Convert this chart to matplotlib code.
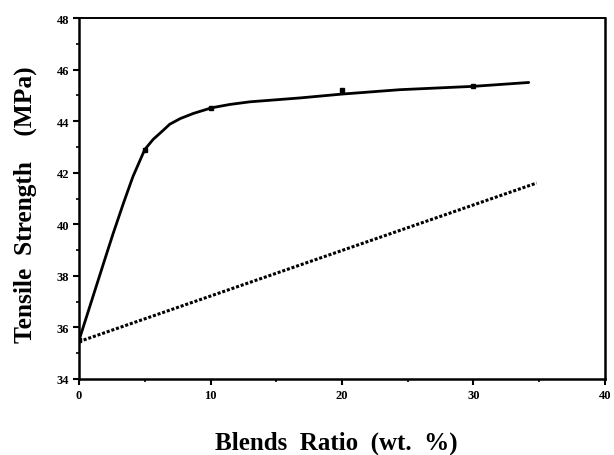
import numpy as np
import matplotlib
matplotlib.use('Agg')
import matplotlib.pyplot as plt
from matplotlib.ticker import MultipleLocator

# Measured tensile strength of the blends
blend_ratio = [0, 5, 10, 20, 30]
tensile = [35.5, 42.9, 44.5, 45.2, 45.35]

# Hand-drawn trend curve through the measurements
curve_x = [0, 1.0, 2.0, 2.6, 3.4, 4.1, 5.0, 5.65, 6.2, 6.9, 7.7, 8.7,
           10.1, 11.5, 13.0, 16.8, 20.0, 24.4, 30.0, 34.2]
curve_y = [35.5, 37.1, 38.7, 39.65, 40.85, 41.85, 42.9, 43.3, 43.55, 43.88, 44.1, 44.3,
           44.52, 44.65, 44.75, 44.9, 45.05, 45.22, 45.35, 45.5]

# Additivity (rule of mixtures) line
additive_x = [0, 34.8]
additive_y = [35.45, 41.6]

plt.rcParams['font.family'] = 'Liberation Serif'
plt.rcParams['font.weight'] = 'bold'

fig = plt.figure(figsize=(6.14, 4.56), dpi=100)
ax = fig.add_axes([0.1287, 0.1667, 0.8566, 0.7916])

ax.plot(curve_x, curve_y, color='black', linewidth=2.0, solid_capstyle='round',
        solid_joinstyle='round')
ax.plot(blend_ratio, tensile, linestyle='none', marker='s', markersize=3, color='black')
ax.plot(additive_x, additive_y, color='black', linewidth=2.2, linestyle=(0, (1, 0.6)))

ax.set_xlim(0, 40)
ax.set_ylim(34, 48)
ax.xaxis.set_major_locator(MultipleLocator(10))
ax.xaxis.set_minor_locator(MultipleLocator(5))
ax.yaxis.set_major_locator(MultipleLocator(2))
ax.yaxis.set_minor_locator(MultipleLocator(1))
ax.tick_params(which='major', direction='out', length=4, width=1.5, labelsize=9, pad=3)
ax.tick_params(which='minor', direction='out', length=2.5, width=1.2)
for lab in ax.get_xticklabels() + ax.get_yticklabels():
    lab.set_fontweight('bold')

for side in ['left', 'bottom', 'right']:
    ax.spines[side].set_linewidth(1.8)
ax.spines['top'].set_linewidth(1.4)

# axis titles placed in figure coordinates
fig.text(336 / 614, 1 - 443 / 456, 'Blends  Ratio  (wt.  %)', fontsize=18,
         fontweight='bold', ha='center', va='center')
fig.text(25 / 614, 1 - 205 / 456, 'Tensile  Strength    (MPa)', fontsize=18.3,
         fontweight='bold', ha='center', va='center', rotation=90)

fig.savefig('out.png', dpi=100, facecolor='white')
